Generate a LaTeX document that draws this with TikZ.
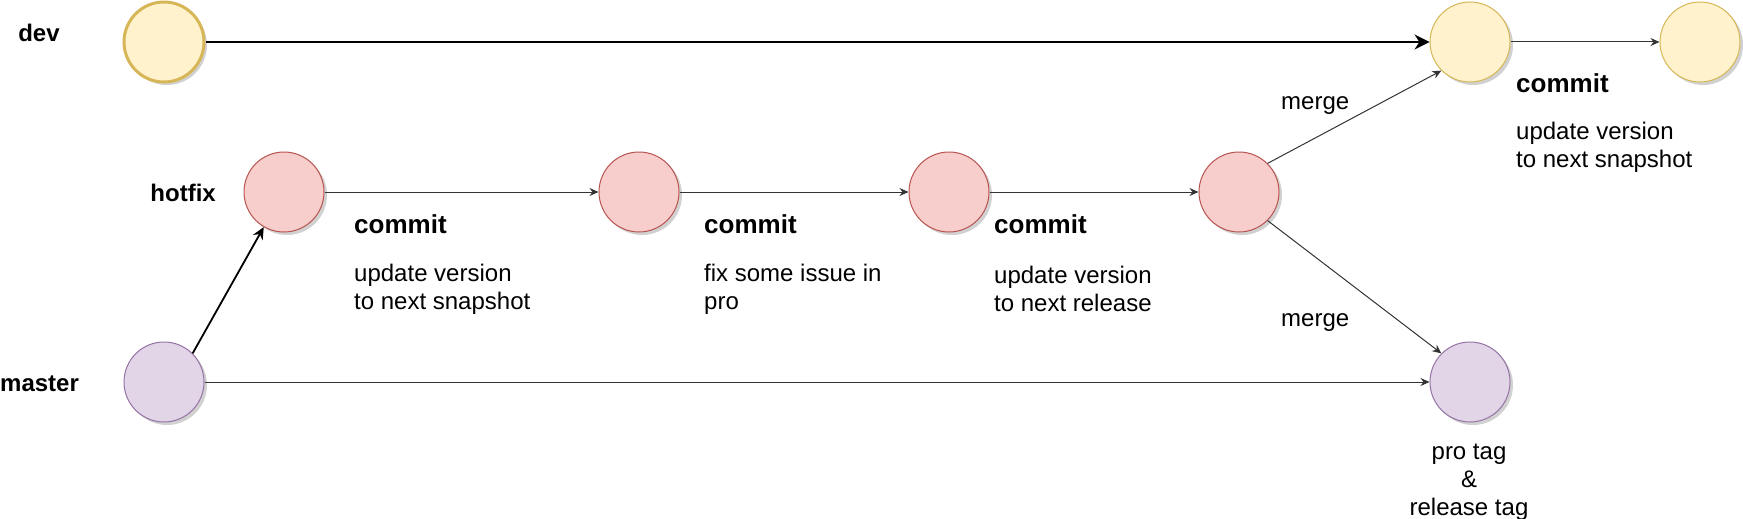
\documentclass[tikz,border=0pt]{standalone}
\usepackage{fontspec}
\setmainfont{Liberation Sans}
\usetikzlibrary{
    arrows.meta,
    shadows,
    positioning
}
\definecolor{devfill}{HTML}{FFF2CC}
\definecolor{devline}{HTML}{D6B656}
\definecolor{fixfill}{HTML}{F8CECC}
\definecolor{fixline}{HTML}{B85450}
\definecolor{mainfill}{HTML}{E1D5E7}
\definecolor{mainline}{HTML}{9673A6}
\tikzset{
    commitdot/.style={circle, minimum size=80pt, inner sep=0pt, line width=1pt,
        drop shadow={shadow xshift=3pt, shadow yshift=-3pt, opacity=0.3, fill=black!60}},
    devdot/.style={commitdot, draw=devline, fill=devfill},
    fixdot/.style={commitdot, draw=fixline, fill=fixfill},
    maindot/.style={commitdot, draw=mainline, fill=mainfill},
    branchname/.style={font=\fontsize{24}{28}\selectfont\bfseries, inner sep=0pt},
    committitle/.style={font=\fontsize{26}{30}\selectfont\bfseries, inner sep=0pt, anchor=west},
    commitnote/.style={font=\fontsize{24}{28}\selectfont, inner sep=0pt, anchor=west, align=left},
    flow/.style={line width=1pt, draw=black!80, -{Stealth[length=9pt, width=8pt]}},
    bigflow/.style={line width=2pt, -{Stealth[length=15pt, width=15pt]}}
}

\begin{document}
\begin{tikzpicture}[x=1pt, y=-1pt]
    \useasboundingbox (0, 0) rectangle (1743, 519);

    \node[branchname] (devname) at (39, 33) {dev};
    \node[branchname, anchor=east] (fixname) at (216, 193) {hotfix};
    \node[branchname, anchor=west] (mainname) at (0, 384) {master};

    \node[devdot, line width=3pt] (dev1) at (164, 42) {};
    \node[devdot] (dev2) at (1470, 42) {};
    \node[devdot] (dev3) at (1700, 42) {};

    \node[fixdot] (fix1) at (284, 192) {};
    \node[fixdot] (fix2) at (639, 192) {};
    \node[fixdot] (fix3) at (949, 192) {};
    \node[fixdot] (fix4) at (1239, 192) {};

    \node[maindot] (main1) at (164, 382) {};
    \node[maindot] (main2) at (1470, 382) {};

    \node[committitle] (ct1) at (354, 224) {commit};
    \node[commitnote] (cn1) at (354, 289) {update version\\to next snapshot};
    \node[committitle] (ct2) at (704, 224) {commit};
    \node[commitnote] (cn2) at (704, 289) {fix some issue in\\pro};
    \node[committitle] (ct3) at (994, 224) {commit};
    \node[commitnote] (cn3) at (994, 289) {update version\\to next release};
    \node[committitle] (ct4) at (1516, 83) {commit};
    \node[commitnote] (cn4) at (1516, 147) {update version\\to next snapshot};

    \node[commitnote] (merge1) at (1281, 106) {merge};
    \node[commitnote] (merge2) at (1281, 323) {merge};
    \node[commitnote, anchor=center, align=center] (tagnote) at (1469, 482) {pro tag\\\&\\release tag};

    \draw[bigflow] (dev1) -- (dev2);
    \draw[flow] (dev2) -- (dev3);
    \draw[bigflow, line width=1.8pt, -{Stealth[length=12pt, width=11pt]}] (main1.45) -- (fix1.240);
    \draw[flow] (fix1) -- (fix2);
    \draw[flow] (fix2) -- (fix3);
    \draw[flow] (fix3) -- (fix4);
    \draw[flow] (fix4.45) -- (dev2.225);
    \draw[flow] (fix4.315) -- (main2.135);
    \draw[flow] (main1) -- (main2);
\end{tikzpicture}
\end{document}
